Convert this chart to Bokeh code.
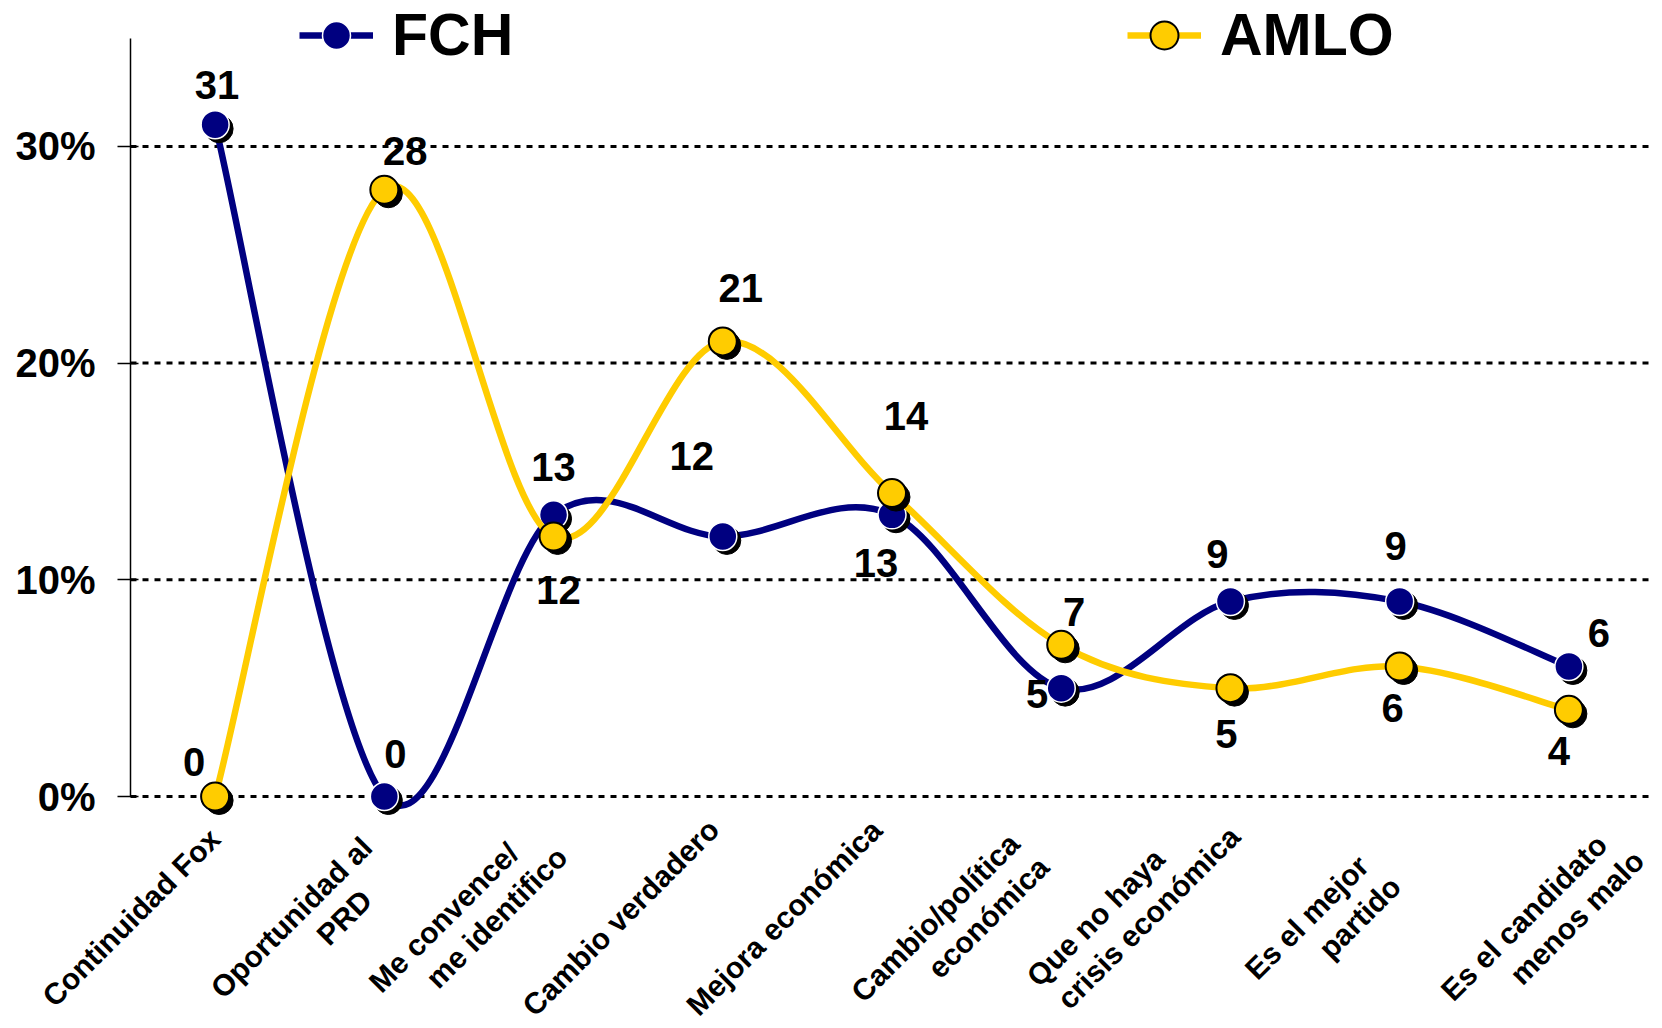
import math
from bokeh.plotting import figure
from bokeh.models import (Range1d, FixedTicker, PrintfTickFormatter, Legend,
                          LegendItem, ColumnDataSource, Label)
from bokeh.core.properties import value
from bokeh.embed import file_html
from bokeh.resources import INLINE

# ---------------- data ----------------
categories = ["Continuidad Fox", "Oportunidad al\nPRD", "Me convence/\nme identifico",
              "Cambio verdadero", "Mejora económica", "Cambio/política\neconómica",
              "Que no haya\ncrisis económica", "Es el mejor\npartido",
              "Es el candidato\nmenos malo"]
fch = [31, 0, 13, 12, 13, 5, 9, 9, 6]
amlo = [0, 28, 12, 21, 14, 7, 5, 6, 4]
y_ticks = [0, 10, 20, 30]

# ---------------- style: pixel offsets ----------------
fch_dx = [2, 11, 0, -31, -16, -24, -13, -4, 30]
fch_dy = [-40, -43, -48, -80, 48, 6, -47, -55, -33]
amlo_dx = [-21, 21, 5, 18, 14, 13, -4, -7, -10]
amlo_dy = [-35, -39, 54, -53, -77, -33, 46, 42, 41]
cat_label_dx = [-84, -93, -110, -102, -108, -126, -135, -93, -45]
CAT_LABEL_DY = -121      # below the 0% line
CAT_LINE_STEP = 53       # horizontal shift of 2nd line

FCH_COLOR = "#000080"
AMLO_COLOR = "#FFCC00"
FONT = "Liberation Sans"

# frame covers the whole canvas; the y axis sits at x = 0
PX_X = 169.22            # px per category
PX_Y = 21.67             # px per percentage point
LEFT_PX = 130            # room left of the y axis
ZERO_PX = 796            # 0% line from the top of the canvas
n = len(categories)
X0 = -LEFT_PX / PX_X
FW = round((n - X0) * PX_X)
FH = 1026
Y1 = ZERO_PX / PX_Y
Y0 = Y1 - FH / PX_Y
xs = [i + 0.5 for i in range(n)]

p = figure(frame_width=FW, frame_height=FH, output_backend="svg",
           toolbar_location=None, x_range=Range1d(X0, n), y_range=Range1d(Y0, Y1),
           min_border_left=0, min_border_top=0, min_border_right=0,
           min_border_bottom=0)
p.outline_line_color = None
p.background_fill_color = "white"
p.border_fill_color = "white"

# y axis at x = 0
p.yaxis.fixed_location = 0
p.yaxis.ticker = FixedTicker(ticks=y_ticks)
p.yaxis.formatter = PrintfTickFormatter(format="%d%%")
p.yaxis.bounds = (0, 35)
p.yaxis.axis_line_color = "black"
p.yaxis.axis_line_width = 1.5
p.yaxis.major_tick_line_color = "black"
p.yaxis.major_tick_line_width = 1.5
p.yaxis.major_tick_in = 8
p.yaxis.major_tick_out = 13
p.yaxis.minor_tick_line_color = None
p.yaxis.major_label_standoff = 22
p.yaxis.major_label_text_font = FONT
p.yaxis.major_label_text_font_style = "bold"
p.yaxis.major_label_text_font_size = "40px"
p.yaxis.major_label_text_color = "black"

# x axis: labels drawn as rotated annotations below the 0% line
p.xaxis.visible = False

# grid: dotted lines from the y axis to the right edge
p.xgrid.grid_line_color = None
p.ygrid.grid_line_color = None
p.segment(x0=[0] * len(y_ticks), y0=y_ticks, x1=[n] * len(y_ticks), y1=y_ticks,
          line_color="black", line_width=3, line_dash="6 6")

for x, cat, dx in zip(xs, categories, cat_label_dx):
    for k, line in enumerate(cat.split("\n")):
        p.add_layout(Label(x=x, y=0, x_offset=dx + k * CAT_LINE_STEP,
                           y_offset=CAT_LABEL_DY, text=line, angle=math.pi / 4,
                           text_align="center", text_baseline="middle",
                           text_font=FONT, text_font_style="bold",
                           text_font_size="30px", text_color="black"))


def smooth_segments(xv, yv):
    """Catmull-Rom style Bezier segments through the data points."""
    m = len(xv)
    d = dict(x0=[], y0=[], x1=[], y1=[], cx0=[], cy0=[], cx1=[], cy1=[])
    for i in range(m - 1):
        a = i - 1 if i > 0 else i
        b = i + 2 if i + 2 < m else i + 1
        d["x0"].append(xv[i]); d["y0"].append(yv[i])
        d["x1"].append(xv[i + 1]); d["y1"].append(yv[i + 1])
        d["cx0"].append(xv[i] + (xv[i + 1] - xv[a]) / 6)
        d["cy0"].append(yv[i] + (yv[i + 1] - yv[a]) / 6)
        d["cx1"].append(xv[i + 1] - (xv[b] - xv[i]) / 6)
        d["cy1"].append(yv[i + 1] - (yv[b] - yv[i]) / 6)
    return ColumnDataSource(d)


sdx = 4 / PX_X
sdy = -4 / PX_Y
MS = 28
LW = 6.5


def series(vals, color, edge, edge_w, dxs, dys):
    p.bezier(x0="x0", y0="y0", x1="x1", y1="y1", cx0="cx0", cy0="cy0",
             cx1="cx1", cy1="cy1", source=smooth_segments(xs, vals),
             line_color=color, line_width=LW)
    p.scatter([x + sdx for x in xs], [v + sdy for v in vals], size=MS,
              fill_color="black", line_color="black")
    mr = p.scatter(xs, vals, size=MS, fill_color=color, line_color=edge,
                   line_width=edge_w)
    src = ColumnDataSource(dict(x=xs, y=vals, t=[str(v) for v in vals],
                                dx=dxs, dy=dys))
    p.text(x="x", y="y", text="t", x_offset="dx", y_offset="dy", source=src,
           text_font=value(FONT), text_font_style="bold", text_font_size="40px",
           text_align="center", text_baseline="middle", text_color="black")
    lr = p.line(x=[float("nan")] * 2, y=[float("nan")] * 2, line_color=color,
                line_width=LW)
    return lr, mr


f_line, f_mark = series(fch, FCH_COLOR, "white", 1.5, fch_dx, fch_dy)
a_line, a_mark = series(amlo, AMLO_COLOR, "black", 2, amlo_dx, amlo_dy)


def make_legend(label, rs, loc):
    lg = Legend(items=[LegendItem(label=label, renderers=rs)], location=loc,
                orientation="horizontal", glyph_width=74, glyph_height=70,
                label_standoff=19, padding=0, margin=0, spacing=0,
                border_line_color=None, background_fill_alpha=0,
                label_text_font=FONT, label_text_font_style="bold",
                label_text_font_size="59px", label_text_color="black",
                label_text_baseline="middle", label_height=20)
    p.add_layout(lg, "center")


LEG_Y = FH - 35 - 35
make_legend("FCH", [f_line, f_mark], (LEFT_PX + 169, LEG_Y))
make_legend("AMLO", [a_line, a_mark], (LEFT_PX + 997, LEG_Y))

open("out.html", "w").write(file_html(p, INLINE))
